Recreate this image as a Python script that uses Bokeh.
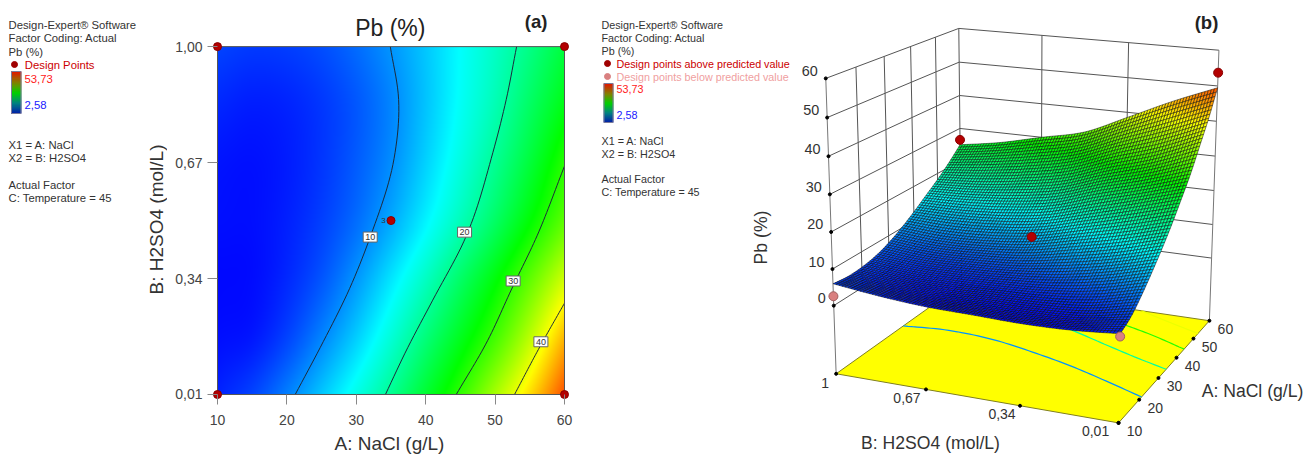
import numpy as np
from bokeh.core.properties import value
from bokeh.embed import file_html
from bokeh.layouts import column, row
from bokeh.models import FixedTicker, Label, Range1d
from bokeh.plotting import figure
from bokeh.resources import INLINE

# ---------- data ----------
naoh_ticks = [10, 20, 30, 40, 50, 60]
acid_ticks = [0.01, 0.34, 0.67, 1.00]
acid_tick_labels = ["0,01", "0,34", "0,67", "1,00"]
z_ticks = [0, 10, 20, 30, 40, 50, 60]

table_A = [10, 15, 20, 25, 30, 35, 40, 45, 50, 55, 60]
table_B = [0.01, 0.17, 0.34, 0.50, 0.67, 0.84, 1.00]
pb_b001 = [4.3, 6.0, 9.0, 12.6, 16.5, 20.8, 25.6, 30.6, 36.5, 42.5, 49.5]
pb_b017 = [3.3, 3.8, 6.0, 9.3, 13.0, 17.3, 22.0, 26.6, 31.5, 37.5, 44.5]
pb_b034 = [3.0, 3.2, 4.6, 6.9, 10.2, 14.1, 18.3, 22.9, 27.5, 32.8, 38.5]
pb_b050 = [3.3, 3.3, 4.2, 5.8, 8.1, 11.2, 14.9, 18.9, 23.2, 28.0, 33.0]
pb_b067 = [3.6, 3.4, 4.0, 5.3, 7.2, 9.7, 13.1, 16.8, 20.7, 25.1, 30.0]
pb_b084 = [4.6, 4.1, 4.4, 5.4, 7.0, 9.3, 12.4, 15.7, 19.0, 23.0, 27.0]
pb_b100 = [6.0, 5.5, 5.7, 6.5, 8.0, 10.1, 12.6, 15.4, 18.2, 21.4, 25.0]
pb_rows = [pb_b001, pb_b017, pb_b034, pb_b050, pb_b067, pb_b084, pb_b100]

c10_A = [21.2, 25.1, 29.0, 32.0, 35.4, 36.1, 34.9]
c10_B = [0.01, 0.155, 0.31, 0.458, 0.677, 0.849, 1.00]
c20_A = [34.2, 37.2, 41.0, 45.6, 49.7, 51.6, 53.1]
c20_B = [0.01, 0.135, 0.278, 0.45, 0.70, 0.849, 1.00]
c30_A = [44.4, 48.7, 52.5, 55.9, 60.0]
c30_B = [0.01, 0.155, 0.315, 0.455, 0.66]
c40_A = [52.8, 56.4, 60.0]
c40_B = [0.01, 0.144, 0.27]
contour_series = [(c10_A, c10_B), (c20_A, c20_B), (c30_A, c30_B), (c40_A, c40_B)]
contour_levels = [10, 20, 30, 40]
contour_label_A = [32.0, 45.6, 52.6, 56.6]
contour_label_B = [0.458, 0.472, 0.333, 0.16]

design_A = [10, 60, 10, 60, 35]
design_B = [1.0, 1.0, 0.01, 0.01, 0.505]
design_Pb = [2.58, 26.5, 3.6, 53.73, 12.5]
design_above = [False, True, False, True, True]

z_min, z_max = 2.58, 53.73
FONT = "Liberation Sans"
TXT = "#333333"
DOT = "#b30000"
PINK = "#d98080"


# ---------- helpers ----------
def pb_color(z):
    t = np.clip((np.asarray(z) - z_min) / (z_max - z_min), 0, 1)
    r = np.interp(t, [0, .25, .5, .75, 1], [0, 0, 0, 255, 255])
    g = np.interp(t, [0, .25, .5, .75, 1], [0, 255, 255, 255, 0])
    b = np.interp(t, [0, .25, .5, .75, 1], [255, 255, 0, 0, 0])
    return np.stack([r, g, b], -1).astype(np.uint8)


def hermite(x, y, q):
    x, y = np.asarray(x, float), np.asarray(y, float)
    m = np.gradient(y, x)
    i = np.clip(np.searchsorted(x, q) - 1, 0, len(x) - 2)
    h = x[i + 1] - x[i]
    t = (q - x[i]) / h
    return ((2*t**3 - 3*t**2 + 1) * y[i] + (t**3 - 2*t**2 + t) * h * m[i]
            + (-2*t**3 + 3*t**2) * y[i + 1] + (t**3 - t**2) * h * m[i + 1])


def fine_field(Aq, Bq):
    table = np.array(pb_rows)
    by_A = np.array([hermite(table_A, r, Aq) for r in table])
    return np.array([hermite(table_B, by_A[:, j], Bq) for j in range(len(Aq))]).T


def smooth_curve(xs, ys, n=60):
    q = np.linspace(ys[0], ys[-1], n)
    return hermite(ys, xs, q), q


def note_figure(w, x0, x1, y0=456, y1=1, h=455, **kw):
    f = figure(width=w, height=h, x_range=Range1d(x0, x1), y_range=Range1d(y0, y1),
               toolbar_location=None, output_backend="svg", min_border=0,
               outline_line_color=None, frame_align=False, **kw)
    f.axis.visible = False
    f.grid.visible = False
    return f


def put(f, x, y, s, size=11.3, color=TXT, align="left", style="normal", angle=0):
    f.text([x], [y], text=[s], text_font=value(FONT), text_font_size=f"{size}px",
           text_color=color, text_align=align, text_baseline="middle",
           text_font_style=style, angle=angle)


def colorbar(f, x0, x1, y0, y1):
    n = 40
    e = np.linspace(y1, y0, n + 1)
    t = np.linspace(0, 1, n)
    stops = [0, .25, .5, .75, 1]
    r = np.interp(t, stops, [0, 0, 0, 130, 220])
    g = np.interp(t, stops, [30, 130, 210, 130, 30])
    b = np.interp(t, stops, [170, 130, 0, 0, 0])
    cols = [f"#{int(a):02x}{int(c):02x}{int(d):02x}" for a, c, d in zip(r, g, b)]
    f.quad(left=x0, right=x1, bottom=e[:-1], top=e[1:], fill_color=cols, line_color=cols)
    f.quad(left=[x0], right=[x1], bottom=[y1], top=[y0], fill_color=None, line_color="#7a7a9a")


# ---------- left note column ----------
left = note_figure(167, 1, 168)
for y, s in [(25, "Design-Expert® Software"), (38.5, "Factor Coding: Actual"), (52, "Pb (%)"),
             (145, "X1 = A: NaCl"), (158.5, "X2 = B: H2SO4"),
             (185.5, "Actual Factor"), (198.5, "C: Temperature = 45")]:
    put(left, 9, y, s)
left.scatter([15], [65], size=6, color="#a00000")
put(left, 25.3, 65, "Design Points", color="#cc0000")
colorbar(left, 12, 21.5, 72, 114)
put(left, 25, 79, "53,73", color="#ff2020")
put(left, 25, 105, "2,58", color="#2020ff")
put(left, 157, 220, "B: H2SO4 (mol/L)", size=19, align="center", angle=np.pi / 2)

# ---------- contour panel ----------
pad = 6
head = 46
xk, yk = 50 / 347, 0.99 / 347
contour = figure(width=432, height=432, toolbar_location=None, output_backend="svg",
                 x_range=Range1d(10 - pad * xk, 60 + pad * xk),
                 y_range=Range1d(0.01 - pad * yk, 1 + head * yk),
                 min_border_left=44, min_border_right=29, min_border_top=0, min_border_bottom=32,
                 outline_line_color=None, frame_align=False)
contour.grid.visible = False

Aq = np.linspace(10, 60, 347)
Bq = np.linspace(0.01, 1, 347)
rgb = pb_color(fine_field(Aq, Bq))
rgba = np.dstack([rgb, np.full(rgb.shape[:2], 255, np.uint8)])
contour.image_rgba(image=[rgba.view(np.uint32).reshape(rgba.shape[:2])], x=10, y=0.01, dw=50, dh=0.99)
for xs, ys in contour_series:
    cx, cy = smooth_curve(xs, ys)
    contour.line(cx, cy, line_color="#1d2a3a", line_width=1)
contour.quad(left=[10], right=[60], bottom=[0.01], top=[1], fill_color=None, line_color="#555555", line_width=1)
contour.scatter(design_A, design_B, size=8, fill_color=DOT, line_color="#8a0000")

for ax in (contour.xaxis[0], contour.yaxis[0]):
    ax.axis_line_color = None
    ax.major_tick_line_color = "#888888"
    ax.major_tick_line_width = 1
    ax.major_tick_in = pad
    ax.major_tick_out = 4
    ax.minor_tick_line_color = None
    ax.major_label_text_font = FONT
    ax.major_label_text_font_size = "14px"
    ax.major_label_text_color = "#444444"
    ax.major_label_standoff = 5
contour.xaxis[0].major_label_standoff = 10
contour.xaxis[0].ticker = FixedTicker(ticks=naoh_ticks)
contour.yaxis[0].ticker = FixedTicker(ticks=acid_ticks)
contour.yaxis[0].major_label_overrides = dict(zip(acid_ticks, acid_tick_labels))

for lev, a, b in zip(contour_levels, contour_label_A, contour_label_B):
    contour.add_layout(Label(x=a, y=b, text=str(lev), text_font=FONT, text_font_size="9px",
                             text_color="#333333", text_align="center", text_baseline="middle",
                             background_fill_color="white", border_line_color="#666666", padding=2))
put(contour, 33.9, 0.505, "3", size=8, align="center")
put(contour, 55.9, 1.071, "(a)", size=18.5, style="bold", color="#222222", align="center")
put(contour, 34.9, 1.054, "Pb (%)", size=23, color="#222222", align="center")

strip = note_figure(432, 168, 600, 456, 433, 23)
put(strip, 390, 444, "A: NaCl (g/L)", size=19, align="center")

# ---------- 3D panel ----------
floor_z = -19
world = np.array([(10, 1, 60), (10, 1, 0), (10, 1, floor_z), (60, 1, 60), (60, 1, 0), (60, 1, floor_z),
                  (60, .01, 60), (60, .01, 0), (60, .01, floor_z), (10, .01, floor_z),
                  (10, .67, floor_z), (10, .34, floor_z),
                  (20, .01, floor_z), (30, .01, floor_z), (40, .01, floor_z), (50, .01, floor_z)], float)
seen = np.array([(825, 78), (832, 304), (836, 375), (960, 32), (961, 224), (962, 285),
                 (1220, 50), (1214, 255), (1212, 320), (1120, 421.7),
                 (930.6, 390.7), (1024.6, 405.7),
                 (1138, 401), (1156, 381), (1174, 360.7), (1192, 340.7)], float)
rows = []
rhs = []
for (a, b, z), (u, v) in zip(world, seen):
    X = [a, b, z, 1]
    rows.append(X + [0, 0, 0, 0] + [-u * a, -u * b, -u * z])
    rhs.append(u)
    rows.append([0, 0, 0, 0] + X + [-v * a, -v * b, -v * z])
    rhs.append(v)
cam = np.linalg.lstsq(np.array(rows), np.array(rhs), rcond=None)[0]


def proj(a, b, z):
    a, b, z = np.asarray(a, float), np.asarray(b, float), np.asarray(z, float)
    w = cam[8] * a + cam[9] * b + cam[10] * z + 1
    return (cam[0] * a + cam[1] * b + cam[2] * z + cam[3]) / w, (cam[4] * a + cam[5] * b + cam[6] * z + cam[7]) / w


right = note_figure(707, 600, 1307)
for y, s in [(25.7, "Design-Expert® Software"), (38.5, "Factor Coding: Actual"), (51.5, "Pb (%)"),
             (141, "X1 = A: NaCl"), (154, "X2 = B: H2SO4"),
             (179.5, "Actual Factor"), (192, "C: Temperature = 45")]:
    put(right, 602, y, s, size=10.75)
right.scatter([608], [64], size=6, color="#a00000")
right.scatter([608], [77], size=6, color=PINK)
put(right, 617, 64, "Design points above predicted value", size=10.75, color="#cc0000")
put(right, 617, 77, "Design points below predicted value", size=10.75, color="#f0a0a0")
colorbar(right, 604.5, 613.5, 84, 123)
put(right, 617, 89.5, "53,73", size=10.75, color="#ff2020")
put(right, 617, 115, "2,58", size=10.75, color="#2020ff")

WALL = "#555555"


def seg(a0, b0, z0, a1, b1, z1, color=WALL, width=1):
    x, y = proj([a0, a1], [b0, b1], [z0, z1])
    right.line(x, y, line_color=color, line_width=width)


for z in z_ticks:
    seg(10, 1, z, 60, 1, z)
    seg(60, 1, z, 60, .01, z)
for a in naoh_ticks[1:-1]:
    seg(a, 1, 0, a, 1, 60)
for b in acid_ticks[1:3]:
    seg(60, b, 0, 60, b, 60)
seg(10, 1, floor_z, 10, 1, 60, "#777777")
seg(60, 1, floor_z, 60, 1, 60)
seg(60, .01, floor_z, 60, .01, 60, "#777777")

# floor
fx, fy = proj([10, 60, 60, 10], [1, 1, .01, .01], [floor_z] * 4)
right.patch(fx, fy, fill_color="#ffff00", line_color="#807f20", line_width=1)
for (xs, ys), lev in zip(contour_series, contour_levels):
    cx, cy = smooth_curve(xs, ys)
    px, py = proj(cx, cy, np.full_like(cx, floor_z))
    c = pb_color(lev)
    right.line(px, py, line_color=f"#{c[0]:02x}{c[1]:02x}{c[2]:02x}", line_width=1.2)

# surface, painted from the far corner towards the viewer
nA, nB = 70, 90
Am = np.linspace(60, 10, nA + 1)
Bm = np.linspace(1, 0.01, nB + 1)
Zm = fine_field(Am[::-1], Bm[::-1])[::-1, ::-1]
AA, BB = np.meshgrid(Am, Bm)
PX, PY = proj(AA, BB, Zm)
xs_q, ys_q, cols_q = [], [], []
for j in range(nB):
    for i in range(nA):
        xs_q.append([PX[j, i], PX[j, i + 1], PX[j + 1, i + 1], PX[j + 1, i]])
        ys_q.append([PY[j, i], PY[j, i + 1], PY[j + 1, i + 1], PY[j + 1, i]])
        c = pb_color(Zm[j:j + 2, i:i + 2].mean())
        cols_q.append(f"#{c[0]:02x}{c[1]:02x}{c[2]:02x}")
right.patches(xs_q, ys_q, fill_color=cols_q, line_color="#080808", line_width=0.6, line_alpha=0.8)

# tick dots and labels
tx, ty = proj([10] * 7, [1] * 7, z_ticks)
right.scatter(tx, ty, size=3, color="black")
for x, y, z in zip(tx, ty, z_ticks):
    put(right, x - 8, y - 7.5, str(z), size=14.4, color="#333333", align="right")
bx, by = proj([10] * 4, [.01, .34, .67, 1], [floor_z] * 4)
right.scatter(bx, by, size=3, color="black")
for x, y, s, dx, dy in zip(bx, by, ["0,01", "0,34", "0,67", "1"], [-23, -18, -19, -11], [8, 8, 9, 9]):
    put(right, x + dx, y + dy, s, size=14, color="#333333", align="center")
ax_, ay_ = proj(naoh_ticks, [.01] * 6, [floor_z] * 6)
right.scatter(ax_, ay_, size=3, color="black")
for x, y, a in zip(ax_, ay_, naoh_ticks):
    put(right, x + 16, y + 8.5, str(a), size=14, color="#333333", align="center")
put(right, 1253, 391, "A: NaCl (g/L)", size=17.6, align="center")
put(right, 931, 443, "B: H2SO4 (mol/L)", size=17.6, align="center")
put(right, 761, 238, "Pb (%)", size=17.6, align="center", angle=np.pi / 2)
put(right, 1207, 23, "(b)", size=18.5, align="center", style="bold", color="#222222")

# design points
dx, dy = proj(design_A, design_B, design_Pb)
right.scatter(dx, dy, size=9, fill_color=[DOT if u else PINK for u in design_above],
              line_color=["#8a0000" if u else "#a06060" for u in design_above])

page = row(left, column(contour, strip), right)
open("out.html", "w").write(file_html(page, INLINE))
